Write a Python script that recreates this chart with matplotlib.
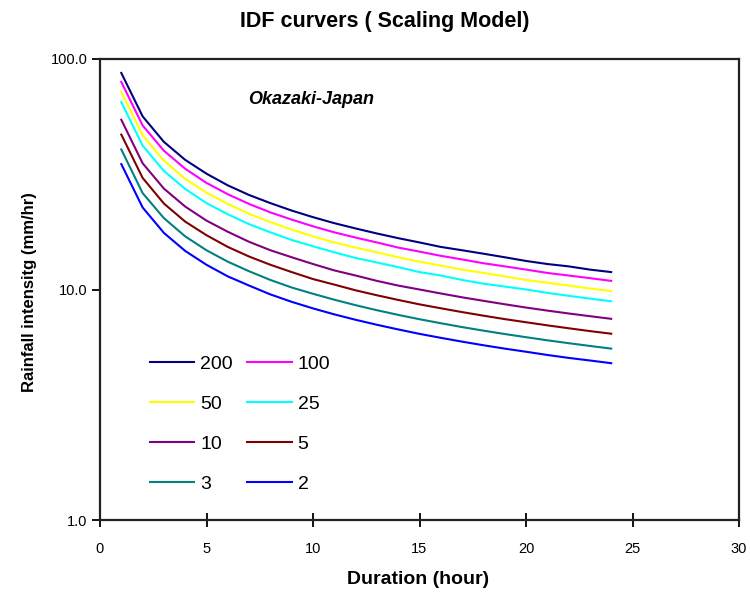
import matplotlib
matplotlib.use("Agg")
import matplotlib.pyplot as plt
from matplotlib.ticker import FixedLocator, NullLocator, FixedFormatter

# Duration (hours) and rainfall intensity (mm/hr) for each return period (years)
durations = list(range(1, 25))

return_periods = ["200", "100", "50", "25", "10", "5", "3", "2"]

i_200 = [87.0, 56.4, 43.7, 36.5, 31.8, 28.3, 25.7, 23.7, 22.0, 20.6, 19.4, 18.4,
         17.5, 16.7, 16.0, 15.3, 14.8, 14.3, 13.8, 13.3, 12.9, 12.6, 12.2, 11.9]
i_100 = [79.5, 51.5, 40.0, 33.4, 29.0, 25.9, 23.5, 21.6, 20.1, 18.8, 17.7, 16.8,
         16.0, 15.2, 14.6, 14.0, 13.5, 13.0, 12.6, 12.2, 11.8, 11.5, 11.2, 10.9]
i_50 = [72.0, 46.7, 36.2, 30.2, 26.3, 23.5, 21.3, 19.6, 18.2, 17.0, 16.0, 15.2,
        14.5, 13.8, 13.2, 12.7, 12.2, 11.8, 11.4, 11.0, 10.7, 10.4, 10.1, 9.85]
i_25 = [65.0, 42.1, 32.7, 27.3, 23.7, 21.2, 19.2, 17.7, 16.4, 15.4, 14.5, 13.7,
        13.1, 12.5, 11.9, 11.5, 11.0, 10.6, 10.3, 10.0, 9.67, 9.39, 9.13, 8.89]
i_10 = [54.5, 35.3, 27.4, 22.9, 19.9, 17.8, 16.1, 14.8, 13.8, 12.9, 12.1, 11.5,
        10.9, 10.4, 10.0, 9.61, 9.25, 8.93, 8.63, 8.35, 8.10, 7.87, 7.66, 7.46]
i_5 = [47.0, 30.5, 23.6, 19.7, 17.2, 15.3, 13.9, 12.8, 11.9, 11.1, 10.5, 9.92,
       9.44, 9.01, 8.62, 8.29, 7.98, 7.70, 7.44, 7.21, 6.99, 6.79, 6.60, 6.43]
i_3 = [40.5, 26.2, 20.4, 17.0, 14.8, 13.2, 12.0, 11.0, 10.2, 9.58, 9.03, 8.55,
       8.13, 7.76, 7.43, 7.14, 6.87, 6.63, 6.41, 6.21, 6.02, 5.85, 5.69, 5.54]
i_2 = [35.0, 22.7, 17.6, 14.7, 12.8, 11.4, 10.4, 9.52, 8.84, 8.28, 7.80, 7.39,
       7.03, 6.71, 6.42, 6.17, 5.94, 5.73, 5.54, 5.37, 5.20, 5.05, 4.92, 4.79]

series = [i_200, i_100, i_50, i_25, i_10, i_5, i_3, i_2]
colors = ["#000080", "#FF00FF", "#FFFF00", "#00FFFF",
          "#800080", "#800000", "#008080", "#0000FF"]

x_ticks = [0, 5, 10, 15, 20, 25, 30]
y_ticks = [1, 10, 100]
y_tick_labels = ["1.0", "10.0", "100.0"]

plt.rcParams["font.family"] = ["Liberation Sans", "DejaVu Sans"]

W, H = 750, 597
fig = plt.figure(figsize=(W / 100, H / 100), dpi=100)
ax = fig.add_axes([100 / W, 1 - 520 / H, 639 / W, 461 / H])

handles = {}
for label, vals, c in zip(return_periods, series, colors):
    (ln,) = ax.plot(durations, vals, color=c, lw=1.5, solid_joinstyle="miter")
    handles[label] = ln

ax.set_yscale("log")
ax.set_xlim(0, 30)
ax.set_ylim(1, 100)
ax.xaxis.set_major_locator(FixedLocator(x_ticks))
ax.yaxis.set_major_locator(FixedLocator(y_ticks))
ax.yaxis.set_major_formatter(FixedFormatter(y_tick_labels))
ax.yaxis.set_minor_locator(NullLocator())
ax.xaxis.set_minor_locator(NullLocator())

for s in ax.spines.values():
    s.set_linewidth(1.6)
    s.set_color("#222222")

ax.tick_params(axis="x", direction="inout", length=10, width=1.3, labelsize=10.5, pad=11)
ax.tick_params(axis="y", direction="out", length=6, width=1.3, labelsize=10.5, pad=3)

ax.set_xlabel("Duration (hour)", fontsize=14, fontweight="bold", va="center")
ax.xaxis.set_label_coords((418 - 100) / 639, (520 - 580) / 461)
ax.set_ylabel("Rainfall intensitg (mm/hr)", fontsize=12, fontweight="bold", va="center")
ax.yaxis.set_label_coords((30 - 100) / 639, (520 - 292) / 461)

fig.text(385 / W, 1 - 21 / H, "IDF curvers ( Scaling Model)", ha="center", va="center",
         fontsize=15.5, fontweight="bold")
ax.text(311 / W, 1 - 100 / H, "Okazaki-Japan", transform=fig.transFigure,
        ha="center", va="center", fontsize=13, fontweight="bold", fontstyle="italic")

# two-column legend filled column by column so rows read 200|100, 50|25, 10|5, 3|2
order = ["200", "50", "10", "3", "100", "25", "5", "2"]
ax.legend([handles[k] for k in order], order, ncol=2, frameon=False,
          loc="upper left", bbox_to_anchor=(150 / W, 1 - 355 / H),
          bbox_transform=fig.transFigure, fontsize=14, handlelength=2.27,
          handletextpad=0.31, columnspacing=0.75, labelspacing=1.16, borderpad=0,
          borderaxespad=0)

fig.savefig("out.png", dpi=100)
